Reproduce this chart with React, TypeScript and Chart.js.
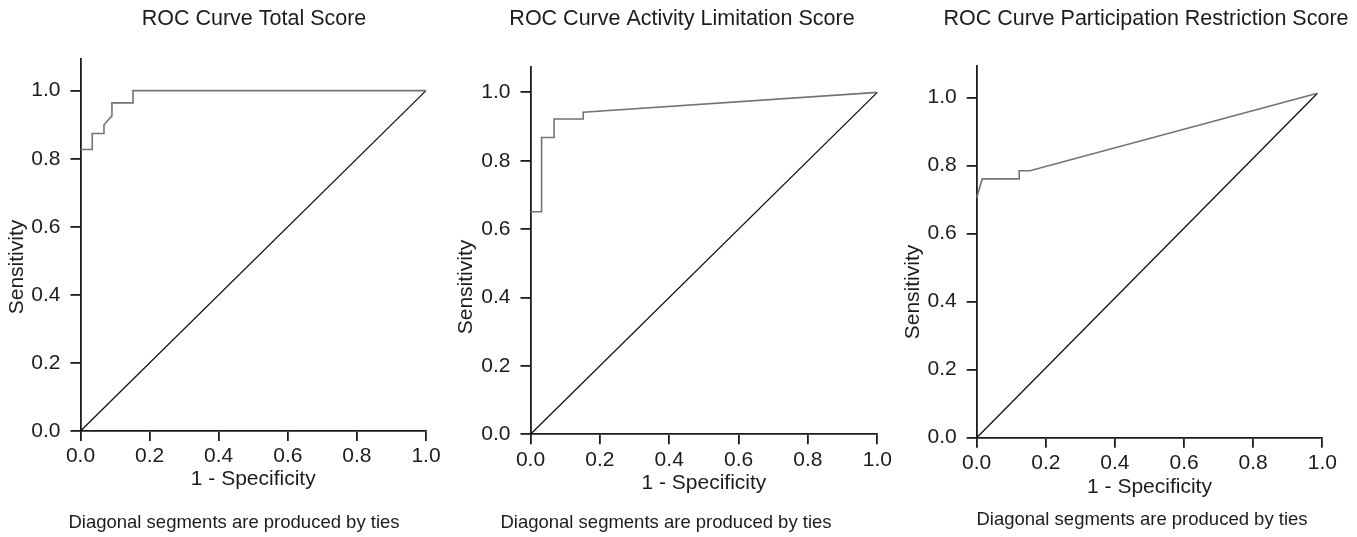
import React, { useEffect, useRef } from "react";
import { Chart, registerables } from "chart.js";

Chart.register(...registerables);

const FONT = '"Liberation Sans", Arial, Helvetica, sans-serif';
const INK = "#1c1c1c";

// ---- text ----
const panelTitles = [
  "ROC Curve Total Score",
  "ROC Curve Activity Limitation Score",
  "ROC Curve Participation Restriction Score",
];
const xAxisLabel = "1 - Specificity";
const yAxisLabel = "Sensitivity";
const footnote = "Diagonal segments are produced by ties";

// ---- tick labels ----
const xTickValues = [0, 0.2, 0.4, 0.6, 0.8, 1.0];
const yTickValues = [0, 0.2, 0.4, 0.6, 0.8, 1.0];

// ---- ROC curve: Total Score ----
const totalFpr = [0, 0.034, 0.034, 0.068, 0.068, 0.091, 0.091, 0.152, 0.152, 1.0];
const totalSens = [0.827, 0.827, 0.874, 0.874, 0.9, 0.926, 0.964, 0.964, 1.0, 1.0];

// ---- ROC curve: Activity Limitation Score ----
const activityFpr = [0, 0.032, 0.032, 0.068, 0.068, 0.152, 0.152, 1.0];
const activitySens = [0.651, 0.651, 0.868, 0.868, 0.922, 0.922, 0.942, 1.0];

// ---- ROC curve: Participation Restriction Score ----
const participationFpr = [0, 0.016, 0.123, 0.123, 0.154, 0.986];
const participationSens = [0.706, 0.761, 0.761, 0.785, 0.785, 1.013];

// ---- reference (chance) diagonals ----
const diagFpr = [0, 1.0];
const diagSens = [0, 1.0];
const diagFprParticipation = [0, 0.986];
const diagSensParticipation = [0, 1.013];

const W = 1357;
const H = 537;
const Y_W = 60;
const X_H = 70;

type PanelCfg = {
  title: string;
  fpr: number[];
  sens: number[];
  dFpr: number[];
  dSens: number[];
  area: { left: number; right: number; top: number; bottom: number };
  yMax: number;
  xTitlePad: number;
  titlePos: [number, number];
  footPos: [number, number];
  yLabPos: [number, number];
};

const panels: PanelCfg[] = [
  {
    title: panelTitles[0],
    fpr: totalFpr,
    sens: totalSens,
    dFpr: diagFpr,
    dSens: diagSens,
    area: { left: 80.5, right: 426, top: 59, bottom: 431 },
    yMax: 1.093,
    xTitlePad: 9,
    titlePos: [254, 19],
    footPos: [234, 523],
    yLabPos: [17.5, 267],
  },
  {
    title: panelTitles[1],
    fpr: activityFpr,
    sens: activitySens,
    dFpr: diagFpr,
    dSens: diagSens,
    area: { left: 530.5, right: 877.3, top: 66.7, bottom: 434.3 },
    yMax: 1.075,
    xTitlePad: 8.3,
    titlePos: [682, 19.5],
    footPos: [666, 523],
    yLabPos: [466, 287],
  },
  {
    title: panelTitles[2],
    fpr: participationFpr,
    sens: participationSens,
    dFpr: diagFprParticipation,
    dSens: diagSensParticipation,
    area: { left: 976.7, right: 1322.3, top: 66, bottom: 437.7 },
    yMax: 1.093,
    xTitlePad: 8.2,
    titlePos: [1146, 19.5],
    footPos: [1142, 520],
    yLabPos: [913, 292],
  },
];

function textPlugin(cfg: PanelCfg) {
  return {
    id: "panelText",
    afterDraw(chart: any) {
      const ctx = chart.ctx as CanvasRenderingContext2D;
      ctx.save();
      ctx.fillStyle = INK;
      ctx.textAlign = "center";
      ctx.textBaseline = "middle";
      ctx.font = `21.5px ${FONT}`;
      ctx.fillText(cfg.title, cfg.titlePos[0], cfg.titlePos[1]);
      ctx.font = `18.5px ${FONT}`;
      ctx.fillText(footnote, cfg.footPos[0], cfg.footPos[1]);
      ctx.translate(cfg.yLabPos[0], cfg.yLabPos[1]);
      ctx.rotate(-Math.PI / 2);
      ctx.font = `21px ${FONT}`;
      ctx.fillText(yAxisLabel, 0, 0);
      ctx.restore();
    },
  };
}

function Panel({ cfg }: { cfg: PanelCfg }) {
  const ref = useRef<HTMLCanvasElement | null>(null);
  useEffect(() => {
    if (!ref.current) return;
    const curve = cfg.fpr.map((x, i) => ({ x, y: cfg.sens[i] }));
    const diag = cfg.dFpr.map((x, i) => ({ x, y: cfg.dSens[i] }));
    const tickFont = { family: FONT, size: 21 };
    const chart = new Chart(ref.current, {
      type: "line",
      data: {
        datasets: [
          {
            data: curve,
            borderColor: "#737373",
            borderWidth: 1.6,
            pointRadius: 0,
            tension: 0,
            fill: false,
            clip: false,
          } as any,
          {
            data: diag,
            borderColor: "#111111",
            borderWidth: 1.3,
            pointRadius: 0,
            tension: 0,
            fill: false,
            clip: false,
          } as any,
        ],
      },
      options: {
        responsive: false,
        animation: false,
        events: [],
        layout: {
          padding: {
            left: cfg.area.left - Y_W,
            right: W - cfg.area.right,
            top: cfg.area.top,
            bottom: H - cfg.area.bottom - X_H,
          },
        },
        plugins: {
          legend: { display: false },
          tooltip: { enabled: false },
          title: { display: false },
        },
        scales: {
          x: {
            type: "linear",
            min: 0,
            max: 1,
            afterFit: (s: any) => {
              s.height = X_H;
            },
            afterBuildTicks: (s: any) => {
              s.ticks = xTickValues.map((v) => ({ value: v }));
            },
            grid: {
              display: true,
              drawOnChartArea: false,
              drawTicks: true,
              tickLength: 10,
              color: INK,
              lineWidth: 1.8,
            },
            border: { display: true, color: INK, width: 1.8 },
            ticks: {
              font: tickFont,
              color: INK,
              padding: 3,
              maxRotation: 0,
              autoSkip: false,
              callback: (v: any) => Number(v).toFixed(1),
            },
            title: {
              display: true,
              text: xAxisLabel,
              font: { family: FONT, size: 21 },
              color: INK,
              padding: { top: 0, bottom: cfg.xTitlePad },
            },
          },
          y: {
            type: "linear",
            min: 0,
            max: cfg.yMax,
            afterFit: (s: any) => {
              s.width = Y_W;
            },
            afterBuildTicks: (s: any) => {
              s.ticks = yTickValues.map((v) => ({ value: v }));
            },
            grid: {
              display: true,
              drawOnChartArea: false,
              drawTicks: true,
              tickLength: 10,
              color: INK,
              lineWidth: 1.8,
            },
            border: { display: true, color: INK, width: 1.8 },
            ticks: {
              font: tickFont,
              color: INK,
              padding: 10,
              autoSkip: false,
              callback: (v: any) => Number(v).toFixed(1),
            },
            title: { display: false },
          },
        },
      },
      plugins: [textPlugin(cfg)],
    } as any);
    return () => chart.destroy();
  }, [cfg]);
  return (
    <canvas
      ref={ref}
      width={W}
      height={H}
      style={{ position: "absolute", left: 0, top: 0, width: W, height: H }}
    />
  );
}

export default function App() {
  return (
    <div
      style={{
        position: "absolute",
        left: 0,
        top: 0,
        width: W,
        height: H,
        background: "#ffffff",
        overflow: "hidden",
      }}
    >
      {panels.map((p, i) => (
        <Panel key={i} cfg={p} />
      ))}
    </div>
  );
}
